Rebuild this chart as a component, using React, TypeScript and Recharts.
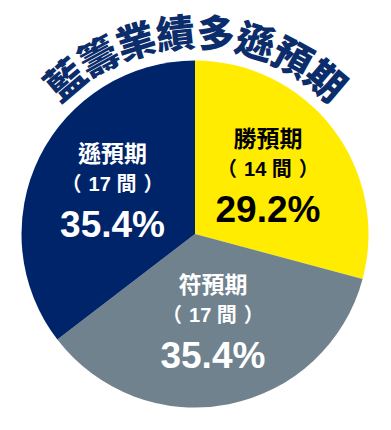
import React from "react";
import { PieChart, Pie, Cell } from "recharts";

const title = "藍籌業績多遜預期";
const names = ["勝預期", "符預期", "遜預期"];
const counts = [14, 17, 17];
const colors = ["#ffec00", "#6f828e", "#002469"];
const textColors = ["#000000", "#ffffff", "#ffffff"];

const data = names.map((name, i) => ({ name, value: counts[i] }));

const W = 391;
const H = 430;
const CX = 195;
const CY = 234;
const R = 173.5;
const RADIAN = Math.PI / 180;

const FONT = "'Liberation Sans', Arial, 'Noto Sans CJK TC', sans-serif";

const renderLabel = (props: any) => {
  const { cx, cy, midAngle, outerRadius, index, percent } = props;
  const r = outerRadius * 0.53;
  const x = cx + r * Math.cos(-midAngle * RADIAN);
  const y = cy + r * Math.sin(-midAngle * RADIAN);
  const fill = textColors[index];
  return (
    <g fontFamily={FONT} fontWeight="bold" fill={fill} textAnchor="middle">
      <text x={x} y={y - 39} fontSize={23} dominantBaseline="central">
        {names[index]}
      </text>
      <text x={x} y={y - 9} fontSize={20} dominantBaseline="central">
        <tspan>（</tspan>
        <tspan dx={7}>{counts[index] + " 間"}</tspan>
        <tspan dx={7}>）</tspan>
      </text>
      <text x={x} y={y + 31} fontSize={37} dominantBaseline="central">
        {(percent * 100).toFixed(1) + "%"}
      </text>
    </g>
  );
};

function TitleArc() {
  const rr = 187;
  const a = 50 * RADIAN;
  const x1 = CX - rr * Math.sin(a);
  const y1 = CY - rr * Math.cos(a);
  const x2 = CX + rr * Math.sin(a);
  const path = `M ${x1} ${y1} A ${rr} ${rr} 0 0 1 ${x2} ${y1}`;
  return (
    <svg
      width={W}
      height={H}
      style={{ position: "absolute", left: 0, top: 0, pointerEvents: "none" }}
    >
      <defs>
        <path id="titleArc" d={path} fill="none" />
      </defs>
      <text
        fontFamily="'Noto Sans CJK TC', sans-serif"
        fontWeight={900}
        fontSize={39}
        letterSpacing={-1.5}
        fill="#0b2d6b"
        stroke="#ffffff"
        strokeWidth={5}
        strokeLinejoin="round"
        paintOrder="stroke"
        textAnchor="middle"
      >
        <textPath href="#titleArc" startOffset="50%">
          {title}
        </textPath>
      </text>
    </svg>
  );
}

export default function App() {
  return (
    <div
      style={{
        position: "absolute",
        left: 0,
        top: 0,
        width: W,
        height: H,
        background: "#ffffff",
      }}
    >
      <PieChart width={W} height={H} margin={{ top: 0, right: 0, bottom: 0, left: 0 }}>
        <Pie
          data={data}
          dataKey="value"
          nameKey="name"
          cx={CX}
          cy={CY}
          outerRadius={R}
          startAngle={90}
          endAngle={-270}
          stroke="none"
          labelLine={false}
          label={renderLabel}
          isAnimationActive={false}
        >
          {data.map((d, i) => (
            <Cell key={d.name} fill={colors[i]} />
          ))}
        </Pie>
      </PieChart>
      <TitleArc />
    </div>
  );
}
